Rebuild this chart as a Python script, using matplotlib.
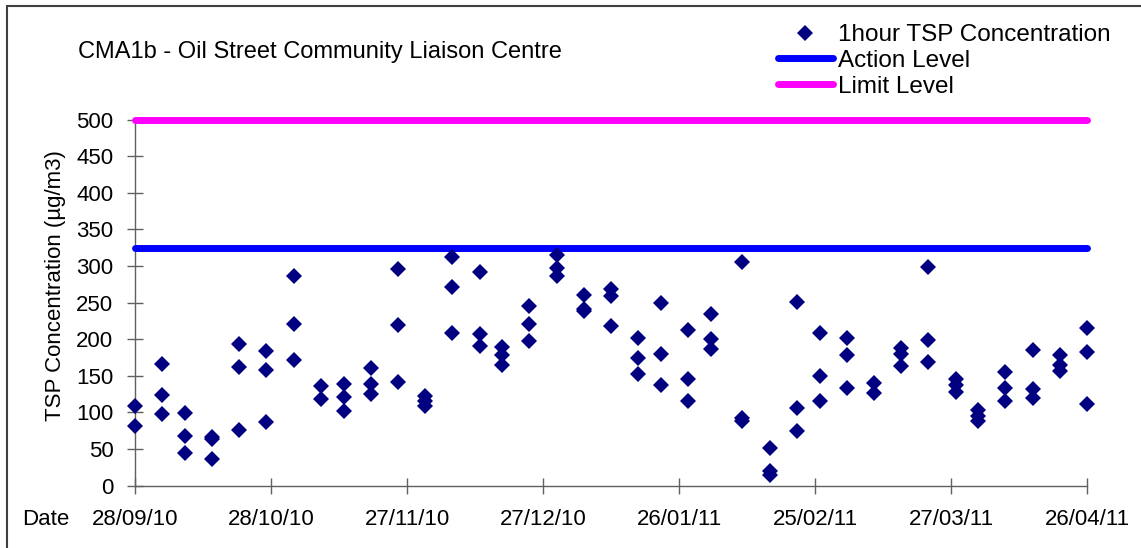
import datetime as dt
import matplotlib
matplotlib.use('Agg')
import matplotlib.pyplot as plt
import matplotlib.dates as mdates
from matplotlib.patches import Rectangle

plt.rcParams['font.family'] = ['Liberation Sans', 'DejaVu Sans']

# sampling dates and the 1-hour TSP readings taken on each date (ug/m3)
sample_dates = [
    '2010-09-28', '2010-10-04', '2010-10-09', '2010-10-15', '2010-10-21', '2010-10-27',
    '2010-11-02', '2010-11-08', '2010-11-13', '2010-11-19', '2010-11-25', '2010-12-01',
    '2010-12-07', '2010-12-13', '2010-12-18', '2010-12-24', '2010-12-30', '2011-01-05',
    '2011-01-11', '2011-01-17', '2011-01-22', '2011-01-28', '2011-02-02', '2011-02-09',
    '2011-02-15', '2011-02-21', '2011-02-26', '2011-03-04', '2011-03-10', '2011-03-16',
    '2011-03-22', '2011-03-28', '2011-04-02', '2011-04-08', '2011-04-14', '2011-04-20',
    '2011-04-26',
]
tsp_values = [
    [109, 82], [166, 124, 98], [99, 68, 44], [66, 64, 37], [193, 162, 76], [184, 158, 87],
    [286, 221, 172], [136, 119], [139, 121, 102], [161, 139, 125], [296, 220, 142], [123, 116, 109],
    [312, 271, 208], [292, 207, 191], [189, 178, 165], [245, 221, 198], [315, 297, 287], [261, 241, 238],
    [268, 259, 218], [201, 174, 152], [250, 180, 137], [213, 146, 115], [234, 200, 187], [306, 92, 89],
    [52, 20, 14], [251, 106, 75], [208, 150, 115], [201, 178, 133], [140, 127], [188, 180, 164],
    [298, 199, 169], [146, 138, 128], [103, 95, 88], [155, 133, 116], [185, 132, 120], [178, 165, 156],
    [215, 183, 111],
]
action_level = 324
limit_level = 500
period_start = '2010-09-28'
period_end = '2011-04-26'

W, H = 1141, 548
fig = plt.figure(figsize=(W / 100, H / 100), dpi=100)
ax = fig.add_axes([135 / W, 1 - 485.7 / H, (1087 - 135) / W, (485.7 - 119.5) / H])

start = dt.datetime.strptime(period_start, '%Y-%m-%d')
end = dt.datetime.strptime(period_end, '%Y-%m-%d')

# flatten readings into (date, value) pairs
xs, ys = [], []
for d, vals in zip(sample_dates, tsp_values):
    day = dt.datetime.strptime(d, '%Y-%m-%d')
    for v in vals:
        xs.append(day)
        ys.append(v)

pts, = ax.plot(xs, ys, linestyle='none', marker='D', markersize=7.8,
               color='#000080', markeredgewidth=0, clip_on=False, zorder=4,
               label='1hour TSP Concentration')
act, = ax.plot([start, end], [action_level, action_level], color='#0000FF', lw=5,
               solid_capstyle='round', clip_on=False, zorder=3, label='Action Level')
lim, = ax.plot([start, end], [limit_level, limit_level], color='#FF00FF', lw=5,
               solid_capstyle='round', clip_on=False, zorder=3, label='Limit Level')

ax.set_xlim(start, end)
ax.set_ylim(0, 500)
ax.set_yticks(range(0, 501, 50))
ax.set_xticks([start + dt.timedelta(days=30 * k) for k in range(8)])
ax.xaxis.set_major_formatter(mdates.DateFormatter('%d/%m/%y'))

for side in ['top', 'right']:
    ax.spines[side].set_visible(False)
for side in ['left', 'bottom']:
    ax.spines[side].set_color('#606060')
    ax.spines[side].set_linewidth(1)
ax.tick_params(direction='inout', length=11, width=1, color='#606060',
               labelsize=16, labelcolor='black')
ax.tick_params(axis='y', pad=10)
ax.tick_params(axis='x', pad=11)
ax.patch.set_visible(False)

fig.text(56 / W, 1 - 286 / H, 'TSP Concentration (µg/m3)', rotation=90,
         ha='center', va='center', fontsize=16)
fig.text(22 / W, 1 - 525 / H, 'Date', ha='left', va='baseline', fontsize=16)
fig.text(78 / W, 1 - 58 / H, 'CMA1b - Oil Street Community Liaison Centre',
         ha='left', va='baseline', fontsize=17)

fig.legend(handles=[pts, act, lim], loc='upper left',
           bbox_to_anchor=(778 / W, 1 - 24 / H), frameon=False, fontsize=17.5,
           handlelength=2.25, handletextpad=0.2, labelspacing=0.16,
           borderpad=0, borderaxespad=0)

# outer chart border
fig.add_artist(Rectangle((7 / W, -0.05), 1.1, 1.05 - 6 / H, transform=fig.transFigure,
                         fill=False, edgecolor='#404040', lw=1.5))

fig.savefig('out.png', dpi=100)
